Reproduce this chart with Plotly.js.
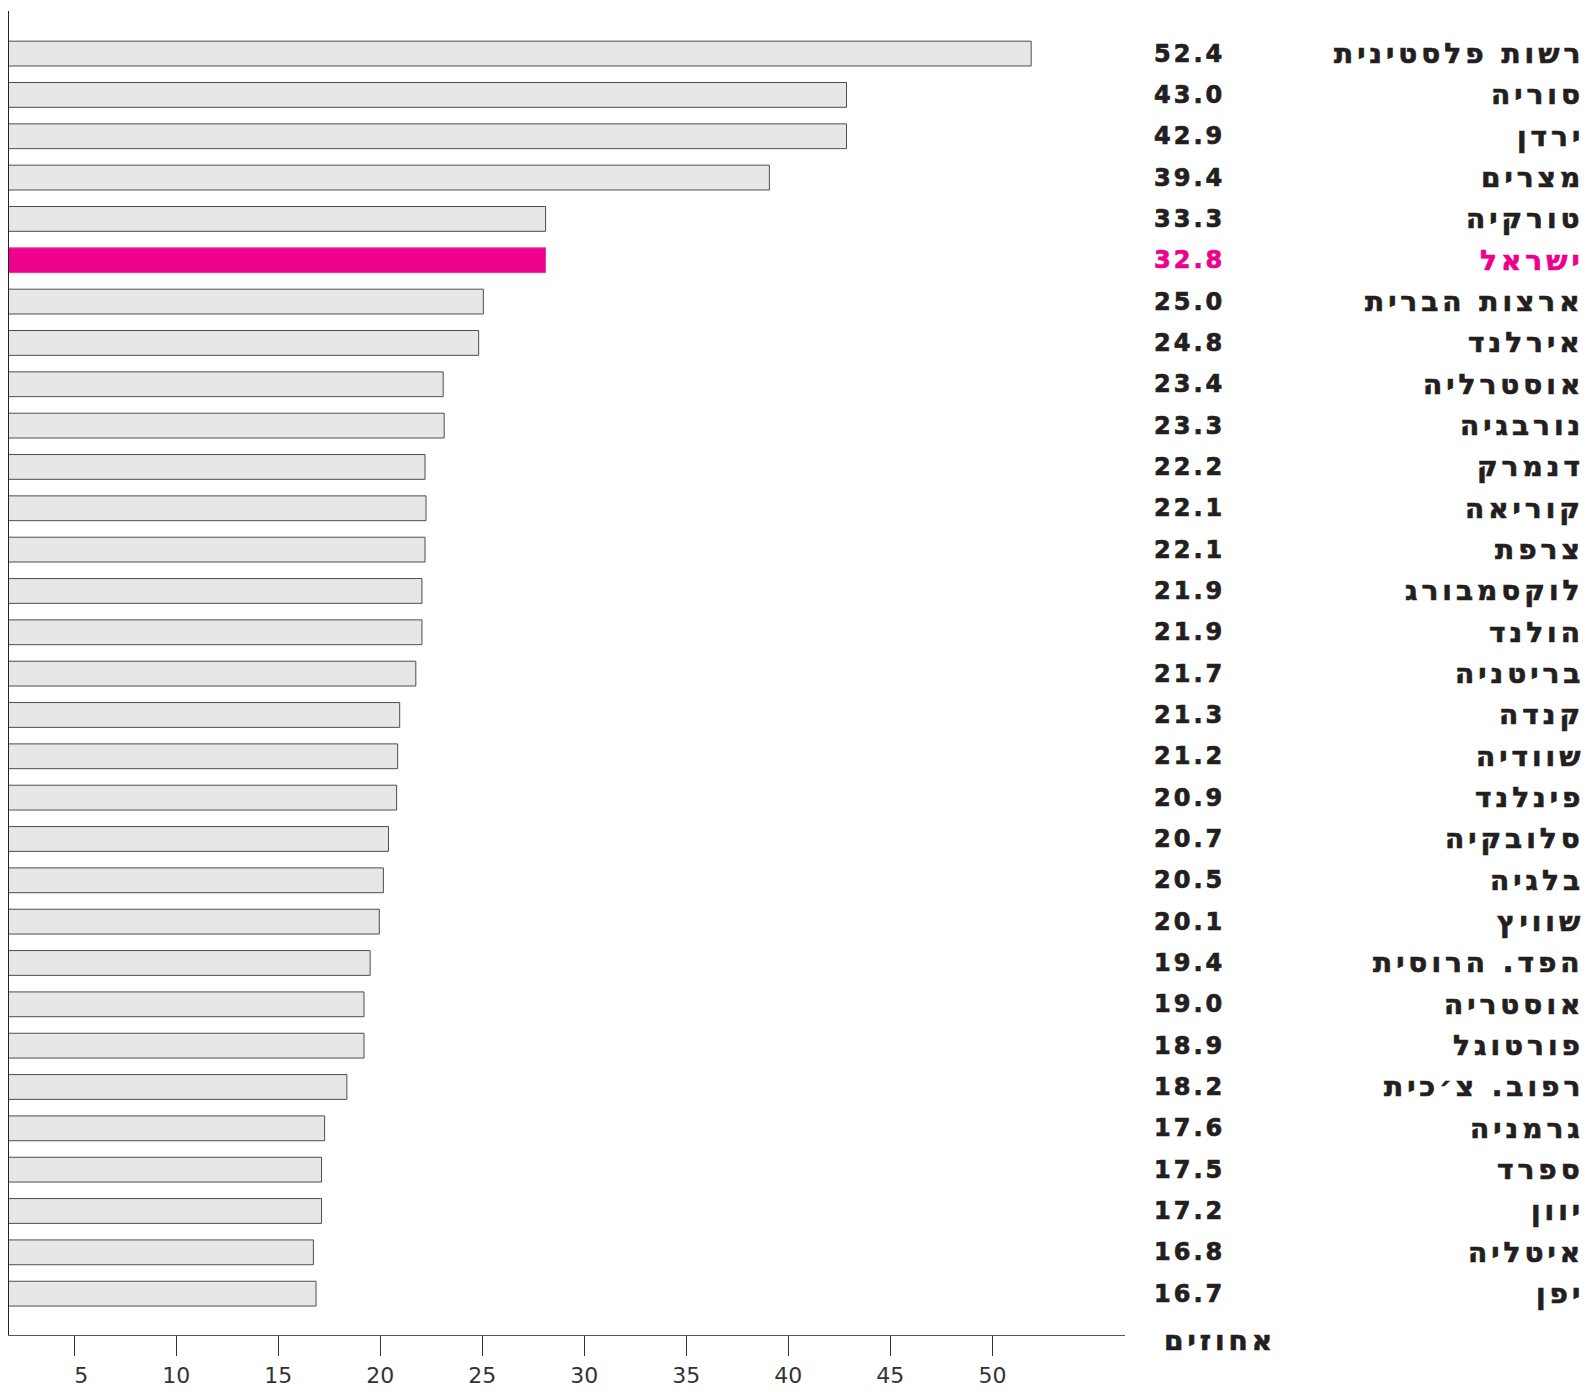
<!DOCTYPE html>
<html>
<head>
<meta charset="utf-8">
<script src="https://cdn.plot.ly/plotly-3.0.1.min.js"></script>
<style>
  html, body { margin: 0; padding: 0; background: #fff; }
  #chart { width: 1589px; height: 1392px; }
</style>
</head>
<body>
<div id="chart"></div>
<script>
// ---- data ----
const countries = [
  "רשות פלסטינית", "סוריה", "ירדן", "מצרים", "טורקיה", "ישראל",
  "ארצות הברית", "אירלנד", "אוסטרליה", "נורבגיה", "דנמרק", "קוריאה",
  "צרפת", "לוקסמבורג", "הולנד", "בריטניה", "קנדה", "שוודיה", "פינלנד",
  "סלובקיה", "בלגיה", "שוויץ", "הפד. הרוסית", "אוסטריה", "פורטוגל",
  "רפוב. צ׳כית", "גרמניה", "ספרד", "יוון", "איטליה", "יפן"
];
const valueLabels = [
  "52.4", "43.0", "42.9", "39.4", "33.3", "32.8", "25.0", "24.8", "23.4",
  "23.3", "22.2", "22.1", "22.1", "21.9", "21.9", "21.7", "21.3", "21.2",
  "20.9", "20.7", "20.5", "20.1", "19.4", "19.0", "18.9", "18.2", "17.6",
  "17.5", "17.2", "16.8", "16.7"
];
// bar lengths as drawn against the axis
const barLengths = [
  51.9, 42.85, 42.85, 39.07, 28.1, 28.1, 25.05, 24.82, 23.08, 23.13, 22.19,
  22.24, 22.19, 22.04, 22.04, 21.74, 20.95, 20.85, 20.8, 20.4, 20.15, 19.95,
  19.5, 19.2, 19.2, 18.36, 17.27, 17.12, 17.12, 16.72, 16.85
];
const highlightCountry = "ישראל";
const tickValues = [5, 10, 15, 20, 25, 30, 35, 40, 45, 50];
const tickLabels = ["\u20075", "10", "15", "20", "25", "30", "35", "40", "45", "50"];
const axisUnit = "אחוזים";

// ---- styling ----
const PINK = "#ec008c";
const GREY = "#e6e7e8";
const INK = "#231f20";
const HEB_FONT = "DejaVu Sans, Liberation Sans, sans-serif";

const plotLeft = 8.7, plotRight = 1125;
const px2paper = px => (px - plotLeft) / (plotRight - plotLeft);

const idx = countries.map((c, i) => i);
const isHi = countries.map(c => c === highlightCountry);

const trace = {
  type: "bar",
  orientation: "h",
  x: barLengths,
  y: idx,
  width: 0.6,
  marker: {
    color: isHi.map(h => h ? PINK : GREY),
    line: { color: isHi.map(h => h ? "#e5399e" : "#4d4d4d"), width: 1 }
  },
  hoverinfo: "skip"
};

const annotations = [];
countries.forEach((c, i) => {
  const col = isHi[i] ? PINK : INK;
  annotations.push({
    xref: "paper", yref: "y", x: px2paper(1586), y: i,
    xanchor: "right", yanchor: "middle", showarrow: false,
    text: "<span style='letter-spacing:4px'>" + c + "</span>",
    font: { family: HEB_FONT, size: 28, color: col, weight: 700 }
  });
  annotations.push({
    xref: "paper", yref: "y", x: px2paper(1227), y: i,
    xanchor: "right", yanchor: "middle", showarrow: false,
    text: "<span style='letter-spacing:3px'>" + valueLabels[i] + "</span>",
    font: { family: HEB_FONT, size: 24, color: col, weight: 700 }
  });
});
annotations.push({
  xref: "paper", yref: "paper", x: px2paper(1278), y: -0.004,
  xanchor: "right", yanchor: "middle", showarrow: false,
  text: "<span style='letter-spacing:4px'>" + axisUnit + "</span>",
  font: { family: HEB_FONT, size: 28, color: INK, weight: 700 }
});

const layout = {
  width: 1589, height: 1392,
  margin: { l: plotLeft, r: 1589 - plotRight, t: 11, b: 1392 - 1335.3, pad: 0 },
  paper_bgcolor: "#fff", plot_bgcolor: "#fff",
  showlegend: false,
  bargap: 0.4,
  xaxis: {
    range: [1.8, 56.5],
    showline: true, linecolor: "#555", linewidth: 1,
    ticks: "outside", ticklen: 20, tickcolor: "#333", tickwidth: 1,
    tickvals: tickValues, ticktext: tickLabels,
    tickfont: { family: "DejaVu Sans, sans-serif", size: 22, color: "#333" },
    ticklabelstandoff: 1,
    showgrid: false, zeroline: false, fixedrange: true
  },
  yaxis: {
    range: [31, -1.03],
    showline: true, linecolor: "#222", linewidth: 1,
    showticklabels: false, ticks: "",
    showgrid: false, zeroline: false, fixedrange: true
  },
  annotations: annotations
};

Plotly.newPlot("chart", [trace], layout, { staticPlot: true, displayModeBar: false }).then(gd => {
  // thicken the heavy label strokes a little
  gd.querySelectorAll(".annotation-text").forEach(t => {
    const fill = t.style.fill;
    t.style.stroke = fill;
    t.style.strokeWidth = "0.7px";
  });
});
</script>
</body>
</html>
